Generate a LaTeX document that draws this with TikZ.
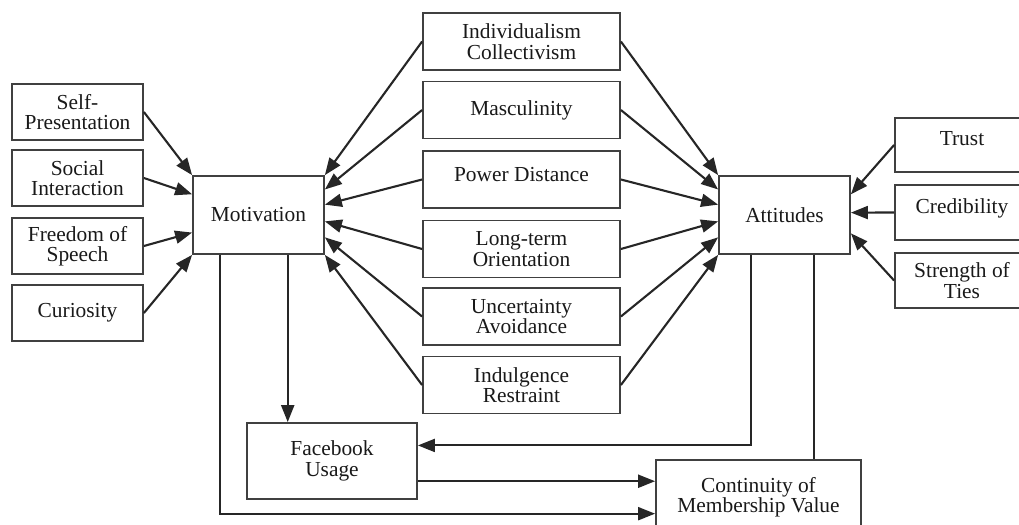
\documentclass[tikz,border=0pt]{standalone}
\usepackage{fontspec}
\setmainfont{Liberation Serif}
\usetikzlibrary{arrows.meta,calc}
\begin{document}
\begin{tikzpicture}[x=0.5pt,y=-0.5pt,
  box/.style={draw=black!75, line width=0.9pt, align=center, inner sep=0pt,
    font=\fontsize{10.7}{10.2}\selectfont, text=black!90},
  smallbox/.style={box, minimum width=65.5pt, minimum height=28pt},
  midbox/.style={box, minimum width=98.5pt, minimum height=28.5pt},
  bigbox/.style={box, minimum width=65.5pt, minimum height=39pt},
  sidebox/.style={box, minimum width=67pt, minimum height=27.5pt},
  arr/.style={-{Triangle[length=8.5pt,width=6.5pt]}, line width=1.05pt, draw=black!85},
  ln/.style={line width=1.05pt, draw=black!85}]
\useasboundingbox (0,0) rectangle (1019,525);
\clip (0,0) rectangle (1019,525);

% motivation antecedents
\node[smallbox] (sp) at (77.5,112) {Self-\\Presentation};
\node[smallbox] (si) at (77.5,178) {Social\\Interaction};
\node[smallbox] (fs) at (77.5,246) {Freedom of\\Speech};
\node[smallbox] (cu) at (77.5,313) {Curiosity};

% central constructs
\node[bigbox] (mot) at (258.5,215) {Motivation};
\node[bigbox] (att) at (784.5,215) {Attitudes};

% cultural dimensions
\node[midbox] (ic) at (521.5,41.5) {Individualism\\Collectivism};
\node[midbox] (ma) at (521.5,110)  {Masculinity};
\node[midbox, text depth=5pt] (pd) at (521.5,179.5) {Power Distance};
\node[midbox] (lt) at (521.5,249)  {Long-term\\Orientation};
\node[midbox] (ua) at (521.5,316.5) {Uncertainty\\Avoidance};
\node[midbox] (ir) at (521.5,385)  {Indulgence\\Restraint};

% attitude antecedents
\node[sidebox, minimum height=27pt, text depth=7pt] (tr) at (962,145) {Trust};
\node[sidebox, text depth=6.3pt] (cr) at (962,212.5) {Credibility};
\node[sidebox] (st) at (962,280.5) {Strength of\\Ties};

% outcomes
\node[box, minimum width=85pt, minimum height=38pt] (fb) at (332,461) {Facebook\\Usage};
\node[box, minimum width=102.5pt, minimum height=37pt] (cm) at (758.5,497) {Continuity of\\Membership Value};

% antecedents -> motivation
\draw[arr] (sp.east) -- (mot.north west);
\draw[arr] (si.east) -- ($(mot.north west)!0.24!(mot.south west)$);
\draw[arr] (fs.east) -- ($(mot.north west)!0.72!(mot.south west)$);
\draw[arr] (cu.east) -- (mot.south west);

% cultural dimensions -> motivation and attitudes
\foreach \n/\f in {ic/0, ma/0.18, pd/0.37, lt/0.58, ua/0.78, ir/1} {
  \draw[arr] (\n.west) -- ($(mot.north east)!\f!(mot.south east)$);
  \draw[arr] (\n.east) -- ($(att.north west)!\f!(att.south west)$);
}

% antecedents -> attitudes
\draw[arr] (tr.west) -- ($(att.north east)!0.24!(att.south east)$);
\draw[arr] (cr.west) -- ($(att.north east)!0.47!(att.south east)$);
\draw[arr] (st.west) -- ($(att.north east)!0.73!(att.south east)$);

% paths to the outcomes
\coordinate (m1) at ($(mot.south west)!0.21!(mot.south east)$);
\coordinate (m2) at ($(mot.south west)!0.72!(mot.south east)$);
\coordinate (a1) at ($(att.south west)!0.25!(att.south east)$);
\coordinate (a2) at ($(att.south west)!0.72!(att.south east)$);
\coordinate (f2) at ($(fb.north east)!0.76!(fb.south east)$);

\draw[arr] (m2) -- (m2 |- fb.north);
\draw[arr] (m1) |- ($(cm.north west)!0.72!(cm.south west)$);
\draw[arr] (a1) |- ($(fb.north east)!0.30!(fb.south east)$);
\draw[arr] (f2) -- (f2 -| cm.west);
\draw[ln] (a2) -- (a2 |- cm.north);
\end{tikzpicture}
\end{document}
